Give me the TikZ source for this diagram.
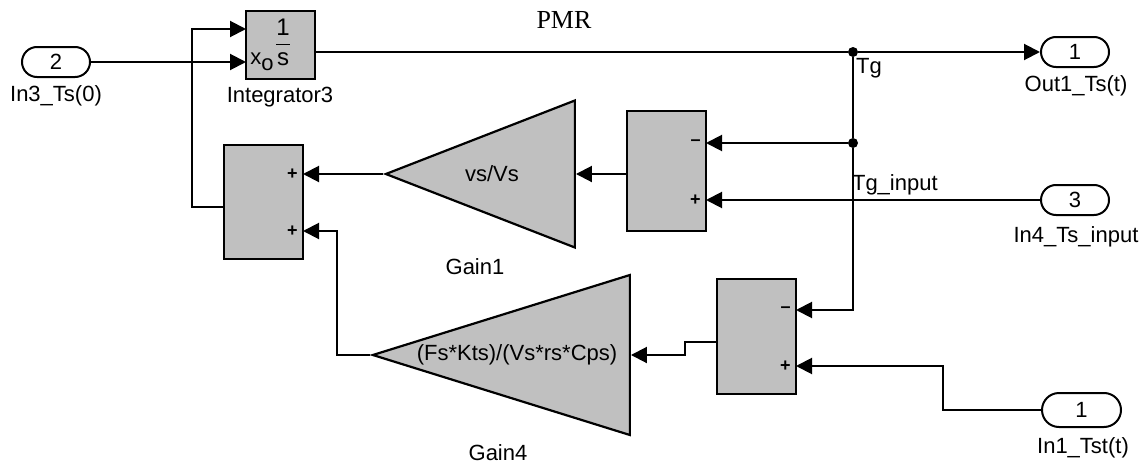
\documentclass[tikz,border=0pt]{standalone}
\usepackage{amsmath}
\usepackage{fontspec}
\setmainfont{Liberation Sans}
\newfontfamily\pmrfont{Liberation Serif}
\usetikzlibrary{arrows.meta,shapes.geometric,shapes.misc}
\definecolor{blockgray}{HTML}{C0C0C0}
\newcommand{\figuretext}{\fontsize{11}{13}\selectfont}
\newcommand{\signtext}{\fontsize{9}{10}\selectfont\bfseries}

\begin{document}
\begin{tikzpicture}[x=0.5pt,y=-0.5pt,font=\figuretext,
  wire/.style={line width=1pt},
  arr/.style={line width=1pt,-{Triangle[length=8pt,width=8pt]}},
  blk/.style={draw,fill=blockgray,line width=1.1pt,inner sep=0pt,minimum width=39.5pt},
  port/.style={draw,fill=white,rounded rectangle,line width=1pt,inner sep=0pt,minimum width=34pt,minimum height=15pt},
  gain/.style={draw,fill=blockgray,line width=1.1pt,isosceles triangle,isosceles triangle stretches,shape border rotate=180,inner sep=0pt,anchor=apex},
  sgn/.style={font=\signtext,inner sep=0pt,anchor=east},
  dot/.style={circle,fill=black,inner sep=0pt,minimum size=5pt}]
\useasboundingbox (0,0) rectangle (1147,466);
\node[port] (in3) at (56,62) {2};
\node (in3l) at (56,96) {In3\_Ts(0)};
\node[blk,minimum width=34.5pt,minimum height=34pt] (int3) at (280.5,45) {};
\node (int3f) at (283,42) {$\displaystyle\frac{\text{\large 1}}{\text{\large s}}$};
\node[anchor=base west,inner sep=0pt] (int3x) at (250,64) {x\raisebox{-3pt}{o}};
\node (int3l) at (280,97) {Integrator3};
\node[font=\pmrfont\fontsize{13}{15}\selectfont] (pmr) at (564,20) {PMR};
\node[port] (out1) at (1075,52) {1};
\node (out1l) at (1076,86) {Out1\_Ts(t)};
\node[port] (in4) at (1075,200) {3};
\node (in4l) at (1076,237) {In4\_Ts\_input};
\node[port,minimum width=39.5pt,minimum height=17pt] (in1) at (1081.5,410) {1};
\node (in1l) at (1083,448) {In1\_Tst(t)};
\node[blk,minimum height=60pt] (sum1) at (666.5,171) {};
\node[blk,minimum height=57.5pt] (sum2) at (756.5,336.5) {};
\node[blk,minimum height=57pt] (sumA) at (263.5,202) {};
\node[gain,minimum width=73.5pt,minimum height=94.5pt] (g1) at (383,174) {};
\node (g1t) at (492,174) {vs/Vs};
\node (g1l) at (475,267) {Gain1};
\node[gain,minimum width=80pt,minimum height=128.5pt] (g4) at (370,355) {};
\node (g4t) at (517,355) {(Fs*Kts)/(Vs*rs*Cps)};
\node (g4l) at (498,453) {Gain4};
\coordinate (int3-i1) at (246,29);
\coordinate (int3-i2) at (246,62);
\coordinate (int3-o) at (315,52);
\coordinate (sumA-i1) at (303,174);
\coordinate (sumA-i2) at (303,231);
\coordinate (sumA-o) at (224,207);
\coordinate (sum1-i1) at (706,143);
\coordinate (sum1-i2) at (706,200);
\coordinate (sum1-o) at (627,174);
\coordinate (sum2-i1) at (796,310);
\coordinate (sum2-i2) at (796,366);
\coordinate (sum2-o) at (717,342);
\node[sgn] (sumA-s1) at (298,174) {+};
\node[sgn] (sumA-s2) at (298,231) {+};
\node[sgn] (sum1-s1) at (701,143) {--};
\node[sgn] (sum1-s2) at (701,200) {+};
\node[sgn] (sum2-s1) at (791,310) {--};
\node[sgn] (sum2-s2) at (791,366) {+};
\node[dot] (tg) at (853,52) {};
\node[dot] (tg2) at (853,143) {};
\node[anchor=west] (tgl) at (849,68) {Tg};
\node[anchor=west] (tgil) at (845,185) {Tg\_input};
\draw[arr] (in3.east) -- (int3-i2);
\draw[wire] (int3-o) -- (tg);
\draw[arr] (tg) -- (out1.west);
\draw[wire] (tg) -- (tg2);
\draw[arr] (tg2) -- (sum1-i1);
\draw[arr] (tg2) |- (sum2-i1);
\draw[arr] (in4.west) -- (sum1-i2);
\draw[arr] (sum1-o) -- (g1.lower side);
\draw[arr] (g1.apex) -- (sumA-i1);
\draw[arr] (in1.west) -- (943,410) |- (sum2-i2);
\draw[arr] (sum2-o) -- (685,342) -- (685,355) -- (g4.lower side);
\draw[arr] (g4.apex) -- (337,355) |- (sumA-i2);
\draw[arr] (sumA-o) -- (192,207) |- (int3-i1);
\end{tikzpicture}
\end{document}
